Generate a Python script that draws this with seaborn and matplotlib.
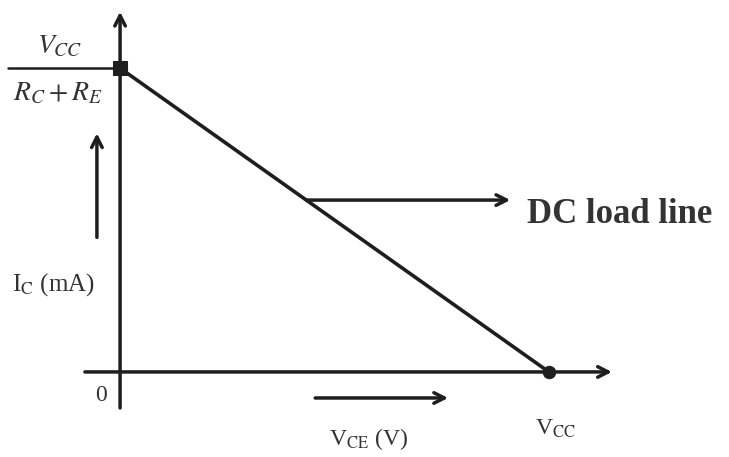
import matplotlib
matplotlib.use("Agg")
import matplotlib.pyplot as plt
import seaborn as sns
import pandas as pd

# load line end points: (0, Ic_sat) and (Vcc, 0)
vcc = 10.0
ic_sat = 7.0
vce = [0.0, vcc]
ic = [ic_sat, 0.0]

df = pd.DataFrame({"vce": vce, "ic": ic})

sns.set_style("white")
plt.rcParams["font.family"] = ["Liberation Serif", "DejaVu Serif"]
plt.rcParams["mathtext.fontset"] = "stix"

ink = "#1e1e1e"
txt = "#333333"
fig = plt.figure(figsize=(7.29, 4.57), dpi=100)
ax = fig.add_axes([0, 0, 1, 1])
ax.set_xlim(-2.8, 14.2)
ax.set_ylim(-1.96, 8.57)
ax.axis("off")

arrow = dict(arrowstyle="->,head_length=0.75,head_width=0.38", color=ink, lw=2.5,
             shrinkA=0, shrinkB=0)

# axes with arrow heads
ax.annotate("", xy=(0, 8.3), xytext=(0, -0.83), arrowprops=arrow)
ax.annotate("", xy=(11.47, 0), xytext=(-0.82, 0), arrowprops=arrow)

# the load line and its end points
sns.lineplot(data=df, x="vce", y="ic", ax=ax, color=ink, linewidth=2.6)
sns.scatterplot(x=vce[:1], y=ic[:1], ax=ax, marker="s", s=90, color=ink, edgecolor=ink)
sns.scatterplot(x=vce[1:], y=ic[1:], ax=ax, marker="o", s=80, color=ink, edgecolor=ink)

# fraction Vcc / (Rc + Re)
ax.plot([-2.62, 0], [ic_sat, ic_sat], color=ink, lw=1.8)
ax.text(-1.4, 7.5, r"$V_{CC}$", ha="center", va="center", fontsize=20, color=txt)
ax.text(-1.45, 6.42, r"$R_C + R_E$", ha="center", va="center", fontsize=20, color=txt)

# Ic label with arrow
ax.annotate("", xy=(-0.54, 5.5), xytext=(-0.54, 3.1), arrowprops=arrow)
ax.text(-1.55, 2.02, r"I$_{\mathrm{C}}$ (mA)", ha="center", va="center", fontsize=18, color=txt)
ax.text(-0.45, -0.55, "0", ha="center", va="center", fontsize=17, color=txt)

# DC load line pointer
y_ptr = 3.96
x_ptr = vcc * (1 - y_ptr / ic_sat)
ax.annotate("", xy=(9.1, y_ptr), xytext=(x_ptr, y_ptr), arrowprops=arrow)
ax.text(9.5, y_ptr - 0.33, "DC load line", ha="left", va="center", fontsize=25,
        color=txt, fontweight="bold")

# Vce label with arrow
ax.annotate("", xy=(7.65, -0.6), xytext=(4.55, -0.6), arrowprops=arrow)
ax.text(5.8, -1.55, r"V$_{\mathrm{CE}}$ (V)", ha="center", va="center", fontsize=17, color=txt)
ax.text(10.15, -1.32, r"V$_{\mathrm{CC}}$", ha="center", va="center", fontsize=17, color=txt)

fig.savefig("out.png", dpi=100, facecolor="white")
